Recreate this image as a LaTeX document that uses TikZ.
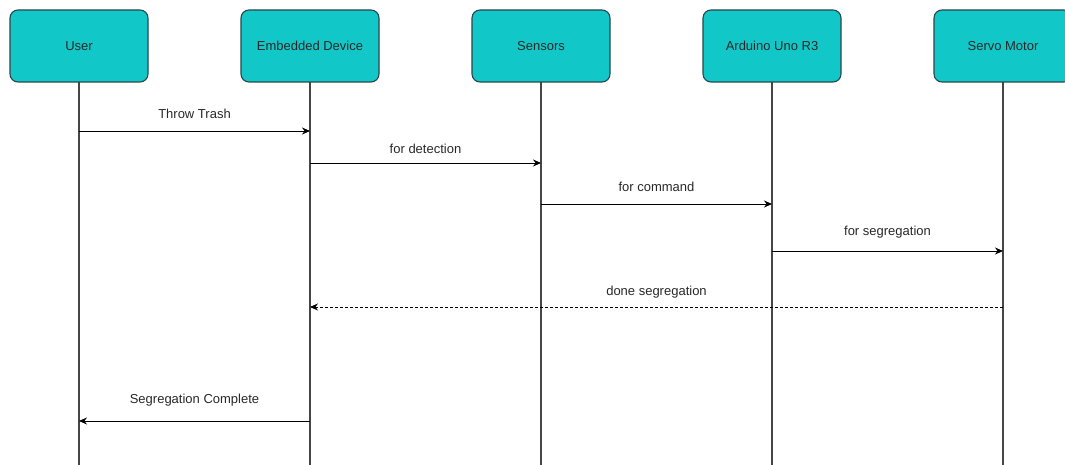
\documentclass[tikz,border=0pt]{standalone}
\usepackage{fontspec}
\setmainfont{Liberation Sans}
\usetikzlibrary{arrows.meta}
\definecolor{boxfill}{RGB}{18,199,199}
\definecolor{boxline}{RGB}{40,70,75}
\definecolor{lifegray}{RGB}{70,70,70}
\definecolor{txt}{RGB}{40,40,40}
\tikzset{
  actor/.style={draw=boxline, line width=1.1pt, fill=boxfill, rounded corners=8pt,
    minimum width=138pt, minimum height=72pt, inner sep=0pt,
    font=\fontsize{13}{15}\selectfont, text=txt},
  life/.style={draw=lifegray, line width=1.8pt},
  msg/.style={draw=black, line width=0.9pt, -{Stealth[length=8pt,width=7pt]}},
  ret/.style={msg, dashed, dash pattern=on 3pt off 2pt},
  lbl/.style={font=\fontsize{13}{15}\selectfont, text=txt, inner sep=1pt}
}
\begin{document}
\begin{tikzpicture}[x=1pt,y=-1pt]
\useasboundingbox (0,0) rectangle (1065,465);
% lifelines
\foreach \n/\x in {u/79,e/310,s/541,a/772,m/1003}{
  \coordinate (\n top) at (\x,82);
  \coordinate (\n bot) at (\x,465);
  \draw[life] (\n top) -- (\n bot);
}
% actors
\node[actor] (user) at (79,46) {User};
\node[actor] (emb) at (310,46) {Embedded Device};
\node[actor] (sen) at (541,46) {Sensors};
\node[actor] (ard) at (772,46) {Arduino Uno R3};
\node[actor] (servo) at (1003,46) {Servo Motor};
% message points
\coordinate (u1) at (79,131);   \coordinate (e1) at (310,131);
\coordinate (e2) at (310,163);  \coordinate (s2) at (541,163);
\coordinate (s3) at (541,204);  \coordinate (a3) at (772,204);
\coordinate (a4) at (772,251);  \coordinate (m4) at (1003,251);
\coordinate (m5) at (1003,307); \coordinate (e5) at (310,307);
\coordinate (e6) at (310,421);  \coordinate (u6) at (79,421);
% messages
\draw[msg] (u1) -- node[lbl, above=11pt] (l1) {Throw Trash} (e1);
\draw[msg] (e2) -- node[lbl, above=8pt] (l2) {for detection} (s2);
\draw[msg] (s3) -- node[lbl, above=11pt] (l3) {for command} (a3);
\draw[msg] (a4) -- node[lbl, above=11pt] (l4) {for segregation} (m4);
\draw[ret] (m5) -- node[lbl, above=7pt] (l5) {done segregation} (e5);
\draw[msg] (e6) -- node[lbl, above=13pt] (l6) {Segregation Complete} (u6);
\end{tikzpicture}
\end{document}
